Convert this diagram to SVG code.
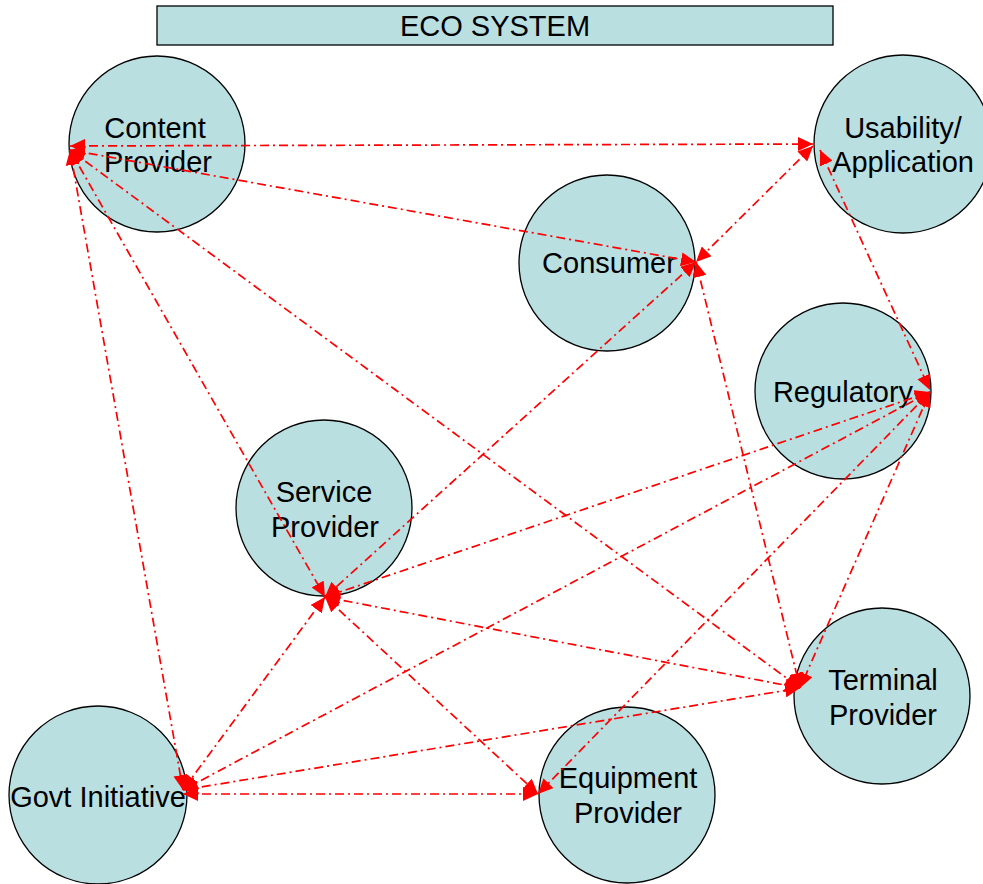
<svg xmlns="http://www.w3.org/2000/svg" width="983" height="884" viewBox="0 0 983 884">
<style>
.node{fill:#B9DFE1;stroke:#000;stroke-width:1.3}
.lbl{font-family:"Liberation Sans",Arial,sans-serif;font-size:29px;fill:#000;text-anchor:middle}
.c{fill:none;stroke:#FF0000;stroke-width:1.7;stroke-dasharray:9 4 2 4;marker-start:url(#ah);marker-end:url(#ah)}
</style>
<defs>
<marker id="ah" markerUnits="userSpaceOnUse" markerWidth="16" markerHeight="14" refX="15" refY="7" orient="auto-start-reverse">
<path d="M0,0 L15,7 L0,14 Z" fill="#FF0000"/>
</marker>
</defs>
<rect width="983" height="884" fill="#fff"/>
<g id="title">
<rect x="157" y="6" width="676" height="39" class="node"/>
<text x="495" y="36" class="lbl">ECO SYSTEM</text>
</g>
<g id="content-provider"><circle cx="157" cy="144" r="88" class="node"/><text x="155" y="138" class="lbl">Content</text><text x="158" y="172" class="lbl">Provider</text></g>
<g id="usability"><circle cx="903" cy="144" r="89" class="node"/><text x="903" y="138" class="lbl">Usability/</text><text x="903" y="172" class="lbl">Application</text></g>
<g id="consumer"><circle cx="607" cy="263" r="88" class="node"/><text x="609" y="273" class="lbl">Consumer</text></g>
<g id="regulatory"><circle cx="843" cy="391" r="88" class="node"/><text x="843" y="402" class="lbl">Regulatory</text></g>
<g id="service-provider"><circle cx="324" cy="508" r="88" class="node"/><text x="324" y="502" class="lbl">Service</text><text x="325" y="537" class="lbl">Provider</text></g>
<g id="terminal-provider"><circle cx="882" cy="696" r="88" class="node"/><text x="883" y="690" class="lbl">Terminal</text><text x="883" y="725" class="lbl">Provider</text></g>
<g id="govt-initiative"><circle cx="98" cy="795" r="89" class="node"/><text x="98" y="807" class="lbl">Govt Initiative</text></g>
<g id="equipment-provider"><circle cx="627" cy="795" r="88" class="node"/><text x="628" y="788" class="lbl">Equipment</text><text x="628" y="823" class="lbl">Provider</text></g>
<g id="connectors">
<line class="c" x1="70" y1="146" x2="813" y2="144"/>
<line class="c" x1="70" y1="150" x2="696" y2="262"/>
<line class="c" x1="70" y1="150" x2="325" y2="597"/>
<line class="c" x1="70" y1="150" x2="800" y2="688"/>
<line class="c" x1="70" y1="150" x2="183" y2="790"/>
<line class="c" x1="813" y1="146" x2="696" y2="262"/>
<line class="c" x1="820" y1="150" x2="930" y2="390"/>
<line class="c" x1="696" y1="262" x2="325" y2="597"/>
<line class="c" x1="696" y1="262" x2="800" y2="688"/>
<line class="c" x1="930" y1="392" x2="325" y2="597"/>
<line class="c" x1="930" y1="392" x2="183" y2="790"/>
<line class="c" x1="930" y1="392" x2="800" y2="688"/>
<line class="c" x1="930" y1="392" x2="538" y2="794"/>
<line class="c" x1="325" y1="597" x2="800" y2="688"/>
<line class="c" x1="325" y1="597" x2="183" y2="790"/>
<line class="c" x1="325" y1="597" x2="538" y2="794"/>
<line class="c" x1="183" y1="790" x2="800" y2="688"/>
<line class="c" x1="183" y1="794" x2="538" y2="794"/>
</g>
</svg>
